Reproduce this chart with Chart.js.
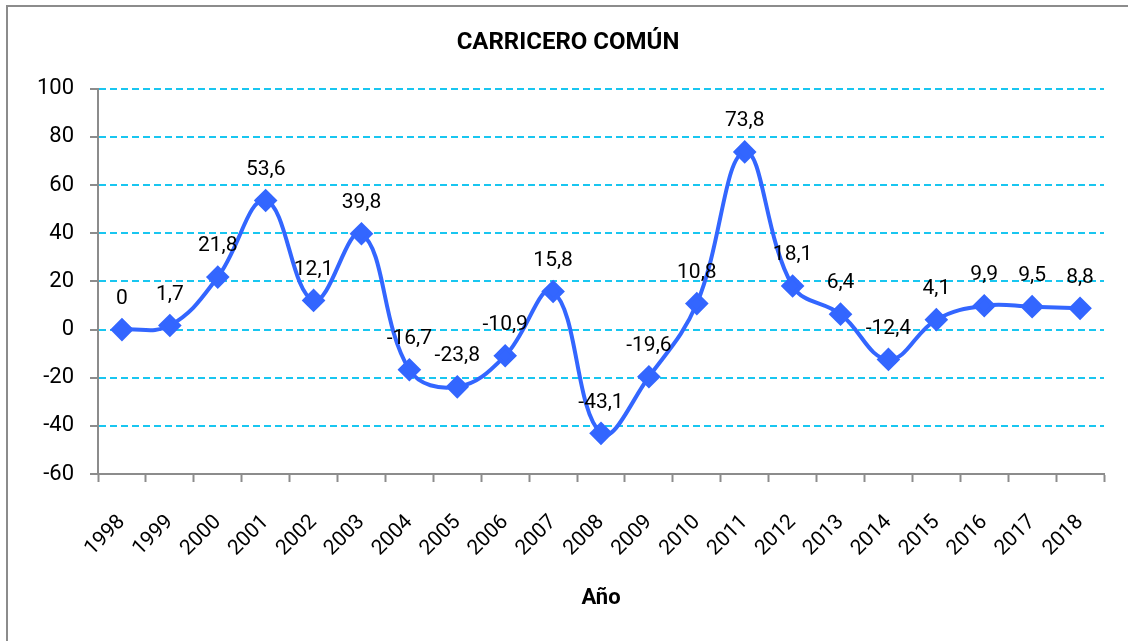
<!DOCTYPE html>
<html>
<head>
<meta charset="utf-8">
<script src="https://cdn.jsdelivr.net/npm/chart.js@4/dist/chart.umd.min.js"></script>
<style>
  html, body { margin: 0; padding: 0; background: #fff; }
  #wrap { position: relative; width: 1128px; height: 641px; }
  #frame { position: absolute; left: 6px; top: 5px; right: -10px; bottom: -10px; border-left: 2px solid #8c8c8c; border-top: 2px solid #8c8c8c; pointer-events: none; }
</style>
</head>
<body>
<div id="wrap">
  <canvas id="chartCanvas" width="1128" height="641"></canvas>
  <div id="frame"></div>
</div>
<script>
// datos del gráfico
const years = ['1998','1999','2000','2001','2002','2003','2004','2005','2006','2007','2008',
               '2009','2010','2011','2012','2013','2014','2015','2016','2017','2018'];
const values = [0, 1.7, 21.8, 53.6, 12.1, 39.8, -16.7, -23.8, -10.9, 15.8, -43.1,
                -19.6, 10.8, 73.8, 18.1, 6.4, -12.4, 4.1, 9.9, 9.5, 8.8];
const yTicks = [100, 80, 60, 40, 20, 0, -20, -40, -60];

const chartTitle = 'CARRICERO COMÚN';
const xAxisLabel = 'Año';
const fontFamily = 'Roboto, "DejaVu Sans", sans-serif';

// etiquetas de valor encima de cada punto (coma decimal)
const valueLabels = {
    id: 'valueLabels',
    afterDatasetsDraw(chart) {
        const ctx = chart.ctx;
        const meta = chart.getDatasetMeta(0);
        ctx.save();
        ctx.font = '21px ' + fontFamily;
        ctx.fillStyle = '#000';
        ctx.textAlign = 'center';
        ctx.textBaseline = 'middle';
        meta.data.forEach((pt, i) => {
            const txt = String(values[i]).replace('.', ',');
            ctx.fillText(txt, pt.x, pt.y - 31);
        });
        ctx.restore();
    }
};

const ctx = document.getElementById('chartCanvas').getContext('2d');
new Chart(ctx, {
    type: 'line',
    data: {
        labels: years,
        datasets: [{
            data: values,
            borderColor: '#3366FF',
            backgroundColor: '#3366FF',
            borderWidth: 4,
            tension: 0.4,
            pointStyle: 'rectRot',
            pointRadius: 9,
            pointHoverRadius: 9,
            fill: false
        }]
    },
    options: {
        responsive: false,
        animation: false,
        layout: { padding: { left: 32, right: 24, top: 0, bottom: 7 } },
        scales: {
            x: {
                offset: true,
                grid: { offset: true, drawOnChartArea: false, tickLength: 8, tickColor: '#8c8c8c', tickWidth: 2 },
                border: { color: '#8c8c8c', width: 2 },
                ticks: { color: '#000', font: { family: fontFamily, size: 21 }, minRotation: 45, maxRotation: 45, padding: 28 },
                title: { display: true, text: xAxisLabel, color: '#000', font: { family: fontFamily, size: 22, weight: 'bold' }, padding: { top: 0, bottom: 22 } },
                afterFit(scale) { scale.height = 160; }
            },
            y: {
                min: -60,
                max: 100,
                afterBuildTicks(scale) { scale.ticks = yTicks.map(v => ({ value: v })); },
                grid: {
                    color: c => (c.tick && c.tick.value === -60) ? 'rgba(0,0,0,0)' : '#19C6F0',
                    lineWidth: 2,
                    tickLength: 8,
                    tickColor: '#8c8c8c',
                    tickWidth: 2
                },
                border: { color: '#8c8c8c', width: 2, dash: [7, 4] },
                ticks: { color: '#000', font: { family: fontFamily, size: 22 }, padding: 16 },
                afterFit(scale) { scale.width = 66; }
            }
        },
        plugins: {
            legend: { display: false },
            tooltip: { enabled: false },
            title: {
                display: true,
                text: chartTitle,
                color: '#000',
                font: { family: fontFamily, size: 24, weight: 'bold' },
                padding: { top: 29, bottom: 31 }
            }
        }
    },
    plugins: [valueLabels]
});
</script>
</body>
</html>
